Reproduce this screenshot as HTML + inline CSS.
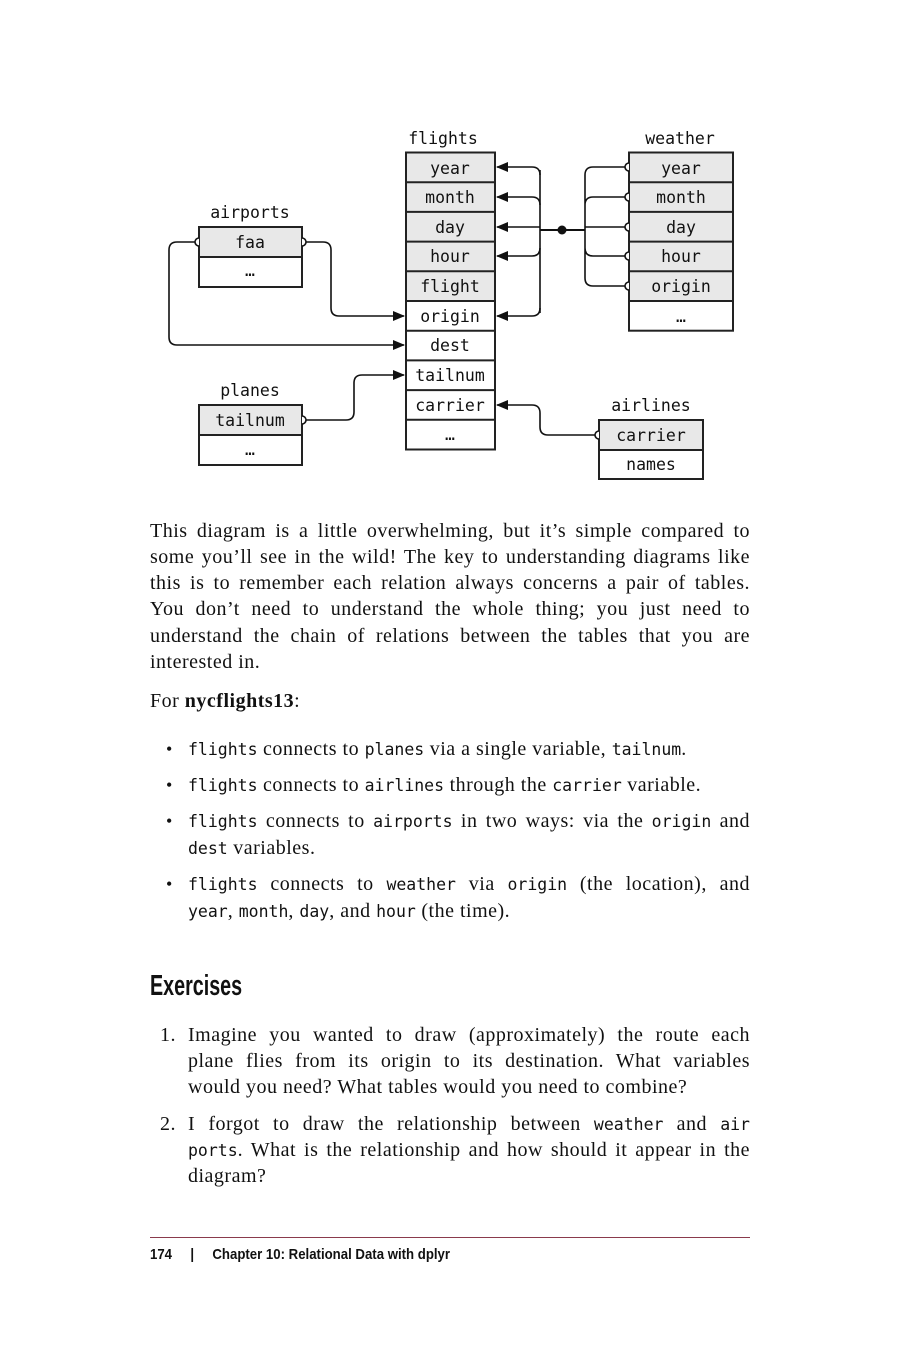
<!DOCTYPE html>
<html><head><meta charset="utf-8"><style>
body{margin:0;background:#fff;}
#p{position:relative;width:900px;height:1350px;overflow:hidden;font-family:"Liberation Serif",serif;font-size:20px;letter-spacing:0.5px;color:#111;}
.l{position:absolute;height:26px;line-height:26px;white-space:nowrap;}
.j{text-align:justify;text-align-last:justify;white-space:normal;}
code{font-family:"DejaVu Sans Mono","Liberation Mono",monospace;font-size:16.5px;letter-spacing:0;}
.b{position:absolute;font-size:18px;}
</style></head><body><div id="p">
<svg width="900" height="500" style="position:absolute;left:0;top:0" font-family="DejaVu Sans Mono, Liberation Mono, monospace" font-size="16.5" text-anchor="middle" letter-spacing="0">
<defs><marker id="a" markerWidth="12" markerHeight="10" refX="11" refY="5" orient="auto" markerUnits="userSpaceOnUse"><path d="M0,0 L12,5 L0,10z" fill="#111"/></marker></defs>
<g stroke="#222" stroke-width="2">
<rect x="406" y="152.5" width="89" height="148.5" fill="#e8e8e8"/>
<rect x="406" y="301" width="89" height="148.5" fill="#fff"/>
<path d="M406 182.2H495M406 211.9H495M406 241.6H495M406 271.3H495M406 330.7H495M406 360.4H495M406 390.1H495M406 419.8H495"/>
<rect x="629" y="152.5" width="104" height="148.5" fill="#e8e8e8"/>
<rect x="629" y="301" width="104" height="29.7" fill="#fff"/>
<path d="M629 182.2H733M629 211.9H733M629 241.6H733M629 271.3H733"/>
<rect x="199" y="227" width="103" height="30" fill="#e8e8e8"/><rect x="199" y="257" width="103" height="30" fill="#fff"/>
<rect x="199" y="405" width="103" height="30" fill="#e8e8e8"/><rect x="199" y="435" width="103" height="30" fill="#fff"/>
<rect x="599" y="420" width="104" height="30" fill="#e8e8e8"/><rect x="599" y="450" width="104" height="29" fill="#fff"/>
</g>
<g fill="none" stroke="#111" stroke-width="1.6">
<path d="M540 170 V313"/>
<path d="M540 175 Q540 167 532 167 H497" marker-end="url(#a)"/>
<path d="M540 205 Q540 197 532 197 H497" marker-end="url(#a)"/>
<path d="M540 227 H497" marker-end="url(#a)"/>
<path d="M540 248 Q540 256 532 256 H497" marker-end="url(#a)"/>
<path d="M540 308 Q540 316 532 316 H497" marker-end="url(#a)"/>
<path d="M540 230 H585" stroke-width="2"/>
<path d="M585 175 Q585 167 593 167 H629 M585 205 Q585 197 593 197 H629 M585 227 H629 M585 248 Q585 256 593 256 H629 M585 278 Q585 286 593 286 H629 M585 175 V278"/>
<path d="M302 242 H323 Q331 242 331 250 V308 Q331 316 339 316 H404" marker-end="url(#a)"/>
<path d="M199 242 H177 Q169 242 169 250 V337 Q169 345 177 345 H404" marker-end="url(#a)"/>
<path d="M302 420 H346 Q354 420 354 412 V383 Q354 375 362 375 H404" marker-end="url(#a)"/>
<path d="M599 435 H548 Q540 435 540 427 V413 Q540 405 532 405 H497" marker-end="url(#a)"/>
<path d="M629 163 a4 4 0 0 0 0 8 M629 193 a4 4 0 0 0 0 8 M629 223 a4 4 0 0 0 0 8 M629 252 a4 4 0 0 0 0 8 M629 282 a4 4 0 0 0 0 8 M599 431 a4 4 0 0 0 0 8 M199 238 a4 4 0 0 0 0 8 M302 238 a4 4 0 0 1 0 8 M302 416 a4 4 0 0 1 0 8" fill="#fff"/>
</g>
<circle cx="562" cy="230" r="4.5" fill="#111"/>
<g fill="#111">
<text x="443" y="144">flights</text><text x="680" y="144">weather</text><text x="250" y="218">airports</text><text x="250" y="396">planes</text><text x="651" y="411">airlines</text>
<text x="450" y="174">year</text><text x="450" y="203">month</text><text x="450" y="233">day</text><text x="450" y="262">hour</text><text x="450" y="292">flight</text><text x="450" y="322">origin</text><text x="450" y="351">dest</text><text x="450" y="381">tailnum</text><text x="450" y="411">carrier</text><text x="450" y="440">…</text>
<text x="681" y="174">year</text><text x="681" y="203">month</text><text x="681" y="233">day</text><text x="681" y="262">hour</text><text x="681" y="292">origin</text><text x="681" y="322">…</text>
<text x="250" y="248">faa</text><text x="250" y="276">…</text><text x="250" y="426">tailnum</text><text x="250" y="455">…</text>
<text x="651" y="441">carrier</text><text x="651" y="470">names</text>
</g>
</svg>

<div class="l j" style="left:150px;width:600px;top:518px">This diagram is a little overwhelming, but it’s simple compared to</div>
<div class="l j" style="left:150px;width:600px;top:544px">some you’ll see in the wild! The key to understanding diagrams like</div>
<div class="l j" style="left:150px;width:600px;top:570px">this is to remember each relation always concerns a pair of tables.</div>
<div class="l j" style="left:150px;width:600px;top:596px">You don’t need to understand the whole thing; you just need to</div>
<div class="l j" style="left:150px;width:600px;top:623px">understand the chain of relations between the tables that you are</div>
<div class="l" style="left:150px;top:649px">interested in.</div>
<div class="l" style="left:150px;top:688px">For <b>nycflights13</b>:</div>

<div class="b l" style="left:166px;top:736px">•</div>
<div class="l" style="left:188px;top:736px"><code>flights</code> connects to <code>planes</code> via a single variable, <code>tailnum</code>.</div>
<div class="b l" style="left:166px;top:772px">•</div>
<div class="l" style="left:188px;top:772px"><code>flights</code> connects to <code>airlines</code> through the <code>carrier</code> variable.</div>
<div class="b l" style="left:166px;top:808px">•</div>
<div class="l j" style="left:188px;width:562px;top:808px"><code>flights</code> connects to <code>airports</code> in two ways: via the <code>origin</code> and</div>
<div class="l" style="left:188px;top:835px"><code>dest</code> variables.</div>
<div class="b l" style="left:166px;top:871px">•</div>
<div class="l j" style="left:188px;width:562px;top:871px"><code>flights</code> connects to <code>weather</code> via <code>origin</code> (the location), and</div>
<div class="l" style="left:188px;top:898px"><code>year</code>, <code>month</code>, <code>day</code>, and <code>hour</code> (the time).</div>

<div class="l" style="left:150px;top:966px;height:40px;line-height:40px;font-family:'Liberation Sans',sans-serif;font-weight:bold;font-size:29px;letter-spacing:0;transform:scaleX(0.68);transform-origin:left;">Exercises</div>

<div class="l" style="left:160px;top:1022px">1.</div>
<div class="l j" style="left:188px;width:562px;top:1022px">Imagine you wanted to draw (approximately) the route each</div>
<div class="l j" style="left:188px;width:562px;top:1048px">plane flies from its origin to its destination. What variables</div>
<div class="l" style="left:188px;top:1074px">would you need? What tables would you need to combine?</div>
<div class="l" style="left:160px;top:1111px">2.</div>
<div class="l j" style="left:188px;width:562px;top:1111px">I forgot to draw the relationship between <code>weather</code> and <code>air</code></div>
<div class="l j" style="left:188px;width:562px;top:1137px"><code>ports</code>. What is the relationship and how should it appear in the</div>
<div class="l" style="left:188px;top:1163px">diagram?</div>

<div style="position:absolute;left:150px;top:1237px;width:600px;height:1px;background:#8a3a4c"></div>
<div class="l" style="left:150px;top:1242px;font-family:'Liberation Sans',sans-serif;font-weight:bold;font-size:15px;letter-spacing:0;transform:scaleX(0.88);transform-origin:left;">174 &nbsp;&nbsp;&nbsp;&nbsp;| &nbsp;&nbsp;&nbsp;&nbsp;Chapter 10: Relational Data with dplyr</div>
</div></body></html>
